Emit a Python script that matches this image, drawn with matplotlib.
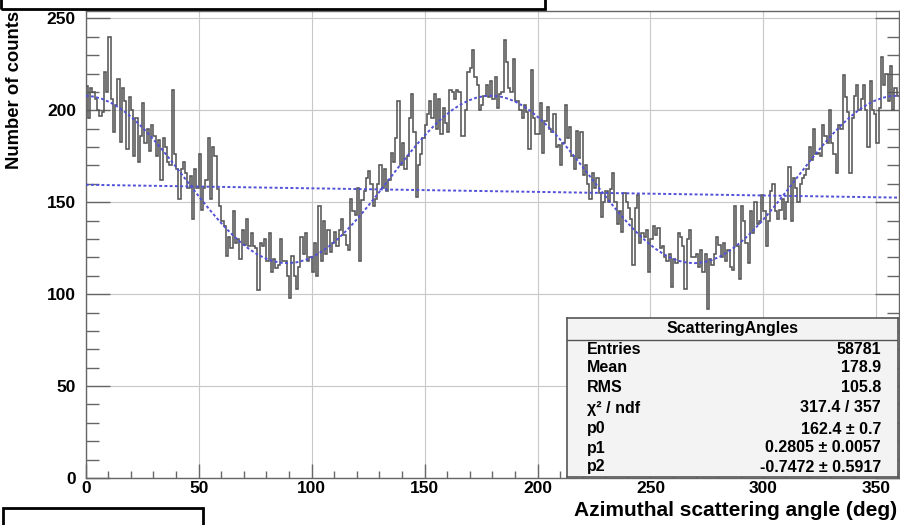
# -*- coding: utf-8 -*-
"""
Azimuthal scattering angle histogram with cos(2phi) fit (ROOT style)
"""

import matplotlib
matplotlib.use("Agg")
import matplotlib.pyplot as plt
from matplotlib.patches import Rectangle
from matplotlib.ticker import MultipleLocator
import numpy as np

plt.rcParams["font.family"] = ["Liberation Sans", "DejaVu Sans"]
plt.rcParams["font.weight"] = "bold"

# bin contents, 1 degree bins from 0 to 360
counts = [
    213, 196, 212, 210, 206, 200, 197, 199, 221, 210,
    240, 206, 188, 203, 217, 183, 212, 205, 179, 207,
    200, 175, 196, 172, 186, 204, 182, 190, 178, 192,
    186, 175, 184, 162, 185, 180, 172, 170, 211, 176,
    168, 152, 168, 172, 166, 158, 164, 141, 168, 158,
    176, 146, 158, 162, 185, 152, 180, 175, 157, 148,
    140, 137, 121, 131, 125, 145, 128, 130, 119, 135,
    127, 141, 126, 133, 126, 125, 102, 128, 126, 130,
    118, 133, 112, 119, 114, 116, 130, 118, 118, 110,
    98, 121, 110, 103, 115, 131, 122, 133, 118, 120,
    112, 128, 110, 148, 118, 140, 122, 135, 123, 128,
    134, 126, 135, 141, 132, 127, 124, 152, 145, 143,
    158, 118, 151, 156, 163, 167, 160, 148, 152, 160,
    170, 158, 168, 156, 162, 177, 172, 185, 205, 170,
    182, 168, 175, 196, 209, 188, 153, 170, 176, 185,
    192, 198, 205, 196, 209, 190, 206, 187, 201, 193,
    188, 211, 210, 206, 211, 210, 186, 186, 200, 221,
    223, 233, 218, 214, 200, 203, 208, 214, 207, 216,
    206, 218, 201, 209, 210, 238, 226, 212, 210, 228,
    205, 205, 200, 196, 203, 199, 179, 222, 196, 187,
    187, 204, 177, 194, 202, 190, 188, 198, 180, 181,
    170, 182, 203, 185, 191, 175, 168, 189, 174, 188,
    165, 170, 160, 152, 166, 158, 163, 155, 142, 150,
    156, 150, 157, 166, 150, 138, 145, 134, 155, 150,
    147, 141, 116, 147, 154, 128, 133, 131, 135, 112,
    130, 137, 132, 136, 125, 126, 120, 118, 122, 104,
    119, 117, 133, 131, 126, 103, 130, 135, 120, 120,
    122, 115, 124, 112, 122, 92, 119, 116, 122, 131,
    127, 120, 128, 118, 124, 115, 113, 148, 126, 108,
    148, 140, 128, 117, 145, 133, 150, 138, 140, 154,
    145, 126, 140, 156, 160, 145, 141, 146, 152, 141,
    150, 169, 140, 163, 158, 150, 160, 163, 165, 168,
    180, 173, 190, 176, 177, 175, 192, 186, 182, 200,
    182, 176, 166, 192, 190, 219, 207, 199, 166, 196,
    208, 214, 200, 206, 214, 200, 180, 216, 200, 198,
    182, 201, 229, 214, 220, 205, 224, 200, 212, 208,
]
bin_edges = np.arange(0, 361, 1)

# fit parameters from the stats box: p0 * (1 + p1 * cos(2 (phi - p2)))
p0, p1, p2 = 162.4, 0.2805, -0.7472

# second (nearly flat) blue dotted line
flat_x = [0, 360]
flat_y = [159.5, 152.5]

stat_labels = ["Entries", "Mean", "RMS", "\u03c7\u00b2 / ndf", "p0", "p1", "p2"]
stat_values = ["58781", "178.9", "105.8", "317.4 / 357",
               "162.4 \u00b1 0.7", "0.2805 \u00b1 0.0057", "-0.7472 \u00b1 0.5917"]

W, H = 900, 525
fig = plt.figure(figsize=(W / 100, H / 100), dpi=100)
fig.patch.set_facecolor("white")

# plot frame in pixel units
x0, x1, y_top, y_bot = 85.7, 899.0, 11.0, 478.0
ax = fig.add_axes([x0 / W, 1 - y_bot / H, (x1 - x0) / W, (y_bot - y_top) / H])

ax.stairs(counts, bin_edges, baseline=None, color="#555555", linewidth=1.15, zorder=3)

phi = np.linspace(0, 360, 101)
fit = p0 * (1 + p1 * np.cos(np.radians(2 * (phi - p2))))
ax.plot(phi, fit, color="#5050d8", linewidth=1.4, linestyle=(0, (1.5, 1.2)), zorder=4)
ax.plot(flat_x, flat_y, color="#5050d8", linewidth=1.4, linestyle=(0, (1.5, 1.2)), zorder=4)

ax.set_xlim(0, 360)
ax.set_ylim(0, 254)
ax.xaxis.set_major_locator(MultipleLocator(50))
ax.xaxis.set_minor_locator(MultipleLocator(10))
ax.yaxis.set_major_locator(MultipleLocator(50))
ax.yaxis.set_minor_locator(MultipleLocator(10))
ax.grid(True, which="major", color="#c8c8c8", linewidth=0.8, zorder=0)

ax.tick_params(axis="y", which="major", direction="in", length=17, width=1,
               color="#666666", labelsize=12.5, pad=7, right=True)
ax.tick_params(axis="y", which="minor", direction="in", length=9, width=1,
               color="#666666", right=True)
ax.tick_params(axis="x", which="major", direction="in", length=10, width=1,
               color="#666666", labelsize=12.5, pad=2.5)
ax.tick_params(axis="x", which="minor", direction="in", length=5, width=1,
               color="#666666")
for lab in ax.get_xticklabels() + ax.get_yticklabels():
    lab.set_fontweight("bold")
for sp in ax.spines.values():
    sp.set_color("#666666")
    sp.set_linewidth(1.0)

ax.set_xlabel("Azimuthal scattering angle (deg)", fontsize=15, fontweight="bold",
              loc="right")
ax.xaxis.set_label_coords(0.998, -0.0503)
ax.set_ylabel("Number of counts", fontsize=13.3, fontweight="bold", loc="top")
ax.yaxis.set_label_coords(-0.077, 1.0)

# stats box
bx0, bx1, by0, by1 = 567, 898, 318, 477
sax = fig.add_axes([bx0 / W, 1 - by1 / H, (bx1 - bx0) / W, (by1 - by0) / H])
sax.set_xlim(0, 1)
sax.set_ylim(0, 1)
sax.set_xticks([])
sax.set_yticks([])
sax.set_facecolor("#f3f3f3")
for sp in sax.spines.values():
    sp.set_color("#555555")
    sp.set_linewidth(1.2)
head_y = (by1 - 340) / (by1 - by0)
sax.axhline(head_y, color="#555555", linewidth=1.0)
sax.text(0.5, (by1 - 328) / (by1 - by0), "ScatteringAngles", ha="center", va="center",
         fontsize=11.5, fontweight="bold")
row_y = [349, 368, 388, 408, 429, 448, 467]
for lab, val, ry in zip(stat_labels, stat_values, row_y):
    yy = (by1 - ry) / (by1 - by0)
    sax.text((587 - bx0) / (bx1 - bx0), yy, lab, ha="left", va="center",
             fontsize=11.5, fontweight="bold")
    sax.text((881 - bx0) / (bx1 - bx0), yy, val, ha="right", va="center",
             fontsize=11.5, fontweight="bold")

# stray outline boxes present in the source image
fig.add_artist(Rectangle((1 / W, 1 - 9 / H), 544 / W, 12 / H, transform=fig.transFigure,
                         fill=False, edgecolor="black", linewidth=2, clip_on=False))
fig.add_artist(Rectangle((3 / W, 0 - 5 / H), 200 / W, 22 / H, transform=fig.transFigure,
                         fill=False, edgecolor="black", linewidth=2, clip_on=False))

fig.savefig("out.png", dpi=100)
